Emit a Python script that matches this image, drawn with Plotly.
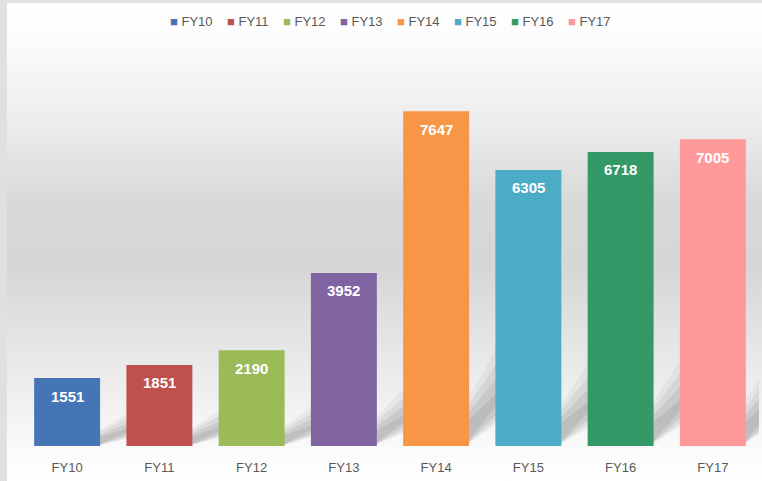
import base64
import plotly.graph_objects as go

categories = ["FY10", "FY11", "FY12", "FY13", "FY14", "FY15", "FY16", "FY17"]
values = [1551, 1851, 2190, 3952, 7647, 6305, 6718, 7005]
colors = ["#4675b5", "#c0504d", "#9bbb59", "#8064a2", "#f79646", "#4bacc6", "#339966", "#ff9999"]

W, H = 762, 481
ML, MR, MT, MB = 21, 3, 52, 35
pw, ph = W - ML - MR, H - MT - MB
BW = 0.715
pos = list(range(len(categories)))

fig = go.Figure()
for i, c, v, col in zip(pos, categories, values, colors):
    fig.add_trace(go.Bar(x=[i], y=[v], name=c, marker=dict(color=col, line=dict(width=0)),
                         width=BW, hovertemplate=c + ": %{y}<extra></extra>", showlegend=False))
    fig.add_annotation(x=i, y=v, text="<b>%d</b>" % v, showarrow=False, yshift=-18,
                       font=dict(family="Liberation Sans", size=15, color="white"))
    # soft drop shadow behind each bar, derived from its value
    xr = i + BW / 2
    R = 0.2 * v + 300
    a = 0.34
    for k, op in ((1.3, 0.07), (1.1, 0.10), (0.9, 0.13), (0.7, 0.14)):
        fig.add_shape(type="path", xref="x", yref="y", layer="below", line=dict(width=0),
                      fillcolor="rgba(100,100,100,%.2f)" % op,
                      path="M %f,0 L %f,%f L %f,%f L %f,%f Z" % (
                          xr - 0.05, xr - 0.05, 0.4 * R * k, xr + a, R * k, xr + a, 0.4 * R / k))

# colour key row built from the categories and colours
sep = "&nbsp;&nbsp;&nbsp;&nbsp;"
legend_text = sep.join("<span style='color:%s'>■</span>&nbsp;%s" % (col, c)
                       for c, col in zip(categories, colors))
fig.add_annotation(xref="paper", yref="paper", x=0.5, y=(H - MB - 21) / ph,
                   xanchor="center", yanchor="middle", showarrow=False, text=legend_text,
                   font=dict(family="Liberation Sans", size=13, color="#595959"))

svg = """<svg xmlns='http://www.w3.org/2000/svg' width='755' height='478' preserveAspectRatio='none'>
<defs><linearGradient id='g' x1='0' y1='0' x2='0' y2='1'>
<stop offset='0' stop-color='#ffffff'/>
<stop offset='0.07' stop-color='#fcfcfc'/>
<stop offset='0.24' stop-color='#eeeeee'/>
<stop offset='0.42' stop-color='#d8d8d8'/>
<stop offset='0.55' stop-color='#d6d6d6'/>
<stop offset='0.72' stop-color='#e6e6e6'/>
<stop offset='0.86' stop-color='#f3f3f3'/>
<stop offset='0.93' stop-color='#fafafa'/>
<stop offset='1' stop-color='#ffffff'/>
</linearGradient></defs>
<rect width='755' height='478' fill='url(#g)'/></svg>"""
src = "data:image/svg+xml;base64," + base64.b64encode(svg.encode()).decode()

fig.add_layout_image(dict(source=src, xref="paper", yref="paper",
                          x=(7 - ML) / pw, y=(H - MB - 3) / ph,
                          sizex=(W - 7) / pw, sizey=(H - 3) / ph,
                          xanchor="left", yanchor="top", sizing="stretch", layer="below"))

fig.update_layout(
    width=W, height=H,
    margin=dict(l=ML, r=MR, t=MT, b=MB),
    paper_bgcolor="#e0e0e0", plot_bgcolor="rgba(0,0,0,0)",
    barmode="overlay",
    showlegend=False,
    xaxis=dict(range=[-0.5, len(categories) - 0.5], tickmode="array", tickvals=pos, ticktext=categories,
               showgrid=False, zeroline=False, showline=False, ticks="", ticklabelstandoff=12,
               tickfont=dict(family="Liberation Sans", size=13, color="#595959")),
    yaxis=dict(range=[0, 9000], visible=False, showgrid=False, zeroline=False),
    font=dict(family="Liberation Sans"),
)

fig.write_html("out.html", config={"displayModeBar": False},
               post_script="document.body.style.margin='0';document.body.style.overflow='hidden';")
